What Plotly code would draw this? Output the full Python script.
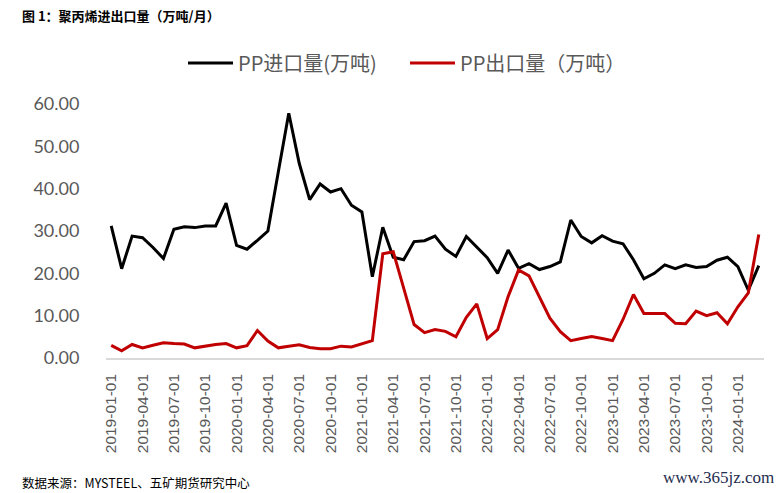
import plotly.graph_objects as go

# ---- data ----
months = [f"{y}-{m:02d}-01" for y in range(2019, 2025) for m in range(1, 13)][:63]

pp_import = [31.2, 21.1, 28.8, 28.4, 26.1, 23.5, 30.4, 31.0, 30.8, 31.2,
             31.2, 36.6, 26.6, 25.7, 27.8, 30.0, 44.0, 57.8, 46.0, 37.4,
             41.1, 39.2, 40.0, 36.1, 34.5, 19.2, 30.9, 23.8, 23.2, 27.5,
             27.7, 28.8, 25.7, 24.0, 28.7, 26.2, 23.7, 20.0, 25.5, 21.2,
             22.3, 20.9, 21.6, 22.7, 32.6, 28.7, 27.2, 28.9, 27.6, 27.0,
             23.2, 18.7, 20.0, 22.0, 21.1, 22.0, 21.4, 21.6, 23.1, 23.8,
             21.6, 16.0, 21.8]

pp_export = [3.0, 1.7, 3.2, 2.4, 3.0, 3.6, 3.4, 3.3, 2.4, 2.8,
             3.2, 3.4, 2.4, 2.9, 6.5, 4.0, 2.4, 2.8, 3.1, 2.5,
             2.2, 2.2, 2.8, 2.6, 3.3, 4.1, 24.6, 25.1, 16.5, 7.9,
             6.0, 6.7, 6.3, 5.0, 9.6, 12.8, 4.6, 6.7, 14.5, 20.8,
             19.4, 14.5, 9.4, 6.2, 4.1, 4.6, 5.1, 4.6, 4.1, 9.1,
             15.0, 10.5, 10.5, 10.5, 8.2, 8.1, 11.1, 10.0, 10.7, 8.1,
             12.1, 15.4, 29.2]

tick_labels = months[::3]
y_ticks = [0, 10, 20, 30, 40, 50, 60]

series_names = ["PP进口量(万吨)", "PP出口量（万吨）"]
title_text = "图 1：聚丙烯进出口量（万吨/月）"
source_text = "数据来源：MYSTEEL、五矿期货研究中心"
watermark_text = "www.365jz.com"

# ---- figure ----
W, H = 781, 493
L, R, T, B = 106, 17, 104, 135

fig = go.Figure()
fig.add_trace(go.Scatter(x=months, y=pp_import, mode="lines", name=series_names[0],
                         line=dict(color="#000000", width=3)))
fig.add_trace(go.Scatter(x=months, y=pp_export, mode="lines", name=series_names[1],
                         line=dict(color="#C00000", width=3)))

fig.update_layout(
    width=W, height=H,
    margin=dict(l=L, r=R, t=T, b=B, pad=0),
    paper_bgcolor="white", plot_bgcolor="white",
    showlegend=True,
    legend=dict(orientation="h", x=(183 - L) / (W - L - R), y=(H - B - 63) / (H - T - B),
                xanchor="left", yanchor="middle",
                font=dict(family="Noto Sans CJK SC", size=20, color="#595959"),
                itemwidth=45, entrywidth=162, entrywidthmode="pixels",
                bgcolor="rgba(0,0,0,0)"),
    xaxis=dict(type="category", range=[-0.5, 62.5],
               tickvals=tick_labels, ticktext=tick_labels, tickangle=-90,
               showline=True, linecolor="#D9D9D9", linewidth=1.5,
               showgrid=False, zeroline=False,
               ticks="outside", ticklen=8, tickcolor="rgba(0,0,0,0)",
               tickfont=dict(family="Liberation Sans", size=15.5, color="#595959")),
    yaxis=dict(range=[0, 60], tickvals=y_ticks, tickformat=".2f",
               showline=False, showgrid=False, zeroline=False,
               ticks="outside", ticklen=22, tickcolor="rgba(0,0,0,0)",
               tickfont=dict(family="Lato", size=18, color="#595959")),
    annotations=[
        dict(text="<b>" + title_text + "</b>", xref="paper", yref="paper",
             x=-(L - 20) / (W - L - R), y=(H - B - 16) / (H - T - B),
             xanchor="left", yanchor="middle", showarrow=False,
             font=dict(family="Noto Sans CJK SC", size=13, color="#000000")),
        dict(text=source_text, xref="paper", yref="paper",
             x=-(L - 20) / (W - L - R), y=(H - B - 482) / (H - T - B),
             xanchor="left", yanchor="middle", showarrow=False,
             font=dict(family="Noto Sans CJK SC", size=12.5, color="#000000")),
        dict(text=watermark_text, xref="paper", yref="paper",
             x=(776 - L) / (W - L - R), y=(H - B - 477) / (H - T - B),
             xanchor="right", yanchor="middle", showarrow=False,
             font=dict(family="Liberation Serif", size=17, color="#1F2D4F")),
    ],
)

fig.write_html("out.html")
